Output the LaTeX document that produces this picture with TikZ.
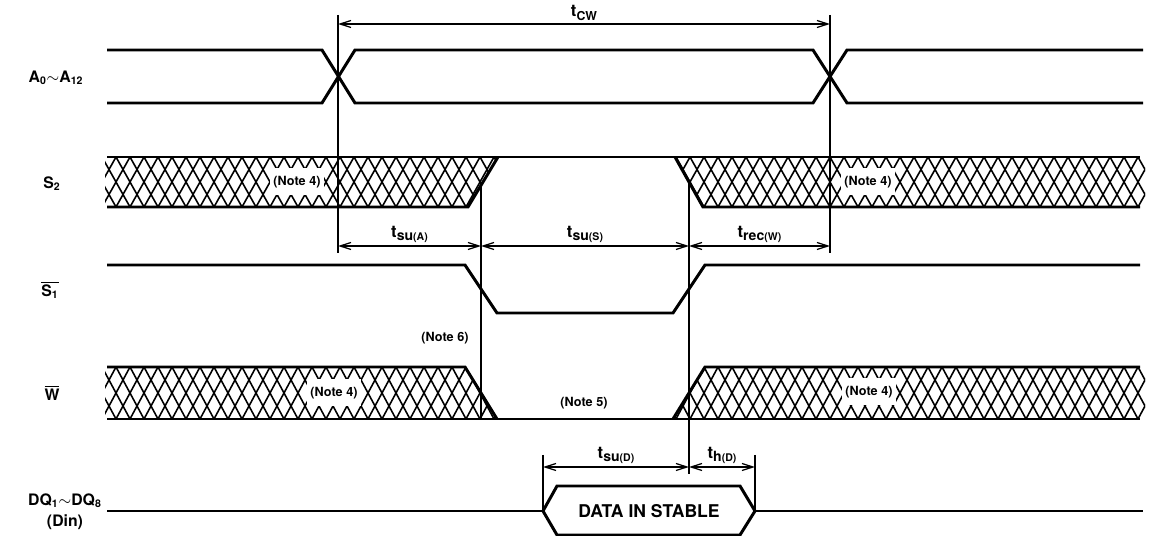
\documentclass[tikz,border=0pt]{standalone}
\usepackage{fontspec}
\setmainfont{TeX Gyre Heros}
\usetikzlibrary{arrows.meta}

\tikzset{
  sig/.style={line width=1.7pt, line join=miter},
  hatchline/.style={line width=0.9pt},
  marker/.style={line width=0.9pt},
  dim/.style={line width=0.7pt,
    {Straight Barb[length=2.2mm,width=1.4mm]}-{Straight Barb[length=2.2mm,width=1.4mm]}},
  tlabel/.style={above, inner sep=1.5pt, font=\bfseries\fontsize{9.5}{10}\selectfont},
  note/.style={font=\bfseries\fontsize{7.2}{9}\selectfont, inner sep=1pt},
  notebox/.style={note, fill=white, minimum height=0.54cm, inner xsep=2pt},
  signame/.style={font=\bfseries\fontsize{9}{12}\selectfont, inner sep=0pt, align=center},
}

% timing label: t with a lowered subscript
\newcommand{\tsub}[2]{t\raisebox{-0.4ex}{\fontsize{8}{8}\selectfont #1\fontsize{6}{6}\selectfont(#2)}}
\newcommand{\tcw}{t\raisebox{-0.4ex}{\fontsize{7}{7}\selectfont CW}}

% cross hatch inside a clip path: #1 path, #2 top y, #3 bottom y
\newcommand{\xhatch}[3]{%
  \begin{scope}
    \clip #1;
    \foreach \x in {60,74,...,1200}
      \draw[hatchline] (\x,#2) -- (\x+28,#3) (\x,#2) -- (\x-28,#3);
  \end{scope}}

\begin{document}
\begin{tikzpicture}[x=0.02cm, y=-0.02cm]
  \useasboundingbox (0,0) rectangle (1150,536);

  % signal names
  \node[signame] (nA)  at (56,78)  {A\textsubscript{0}$\sim$A\textsubscript{12}};
  \node[signame] (nS2) at (52,184) {S\textsubscript{2}};
  \node[signame] (nS1) at (50,290) {$\overline{\mbox{S\textsubscript{1}}}$};
  \node[signame] (nW)  at (52,393) {$\overline{\mbox{W}}$};
  \node[signame] (nDQ) at (65,512) {DQ\textsubscript{1}$\sim$DQ\textsubscript{8}\\(Din)};

  % hatched (don't care) regions
  \xhatch{(105,157) -- (498,157) -- (468,207) -- (105,207) -- cycle}{157}{207}
  \xhatch{(675,157) -- (1145,157) -- (1145,207) -- (703,207) -- cycle}{157}{207}
  \xhatch{(105,367) -- (465,367) -- (497,419) -- (105,419) -- cycle}{367}{419}
  \xhatch{(673,419) -- (705,367) -- (1145,367) -- (1145,419) -- cycle}{367}{419}

  % notes
  \node[notebox] (n4a) at (297,182) {(Note 4)};
  \node[notebox] (n4b) at (868,182) {(Note 4)};
  \node[notebox] (n4c) at (334,393) {(Note 4)};
  \node[notebox] (n4d) at (869,392) {(Note 4)};
  \node[note] (n6) at (445,338) {(Note 6)};
  \node[note] (n5) at (584,403) {(Note 5)};

  % A0~A12
  \draw[sig] (107,50) -- (322,50) -- (355,103) -- (813,103) -- (847,50) -- (1143,50);
  \draw[sig] (107,103) -- (322,103) -- (355,50) -- (813,50) -- (847,103) -- (1143,103);

  % S2
  \draw[sig] (107,157) -- (1140,157);
  \draw[sig] (107,207) -- (468,207) -- (498,157);
  \draw[sig] (675,157) -- (703,207) -- (1140,207);

  % S1
  \draw[sig] (107,265) -- (465,265) -- (497,313) -- (673,313) -- (705,265) -- (1140,265);

  % W
  \draw[sig] (107,367) -- (465,367) -- (497,419);
  \draw[sig] (107,419) -- (1140,419);
  \draw[sig] (673,419) -- (705,367) -- (1140,367);

  % DQ1~DQ8
  \draw[sig] (107,511) -- (543,511);
  \draw[sig] (755,511) -- (1143,511);
  \draw[sig] (543,511) -- (557,486) -- (740,486) -- (755,511) -- (740,535) -- (557,535) -- cycle;
  \node[font=\bfseries\fontsize{10}{12}\selectfont] (data) at (649,511) {DATA IN STABLE};

  % timing markers
  \draw[marker] (338,15) -- (338,253);
  \draw[marker] (830,15) -- (830,253);
  \draw[marker] (481,185) -- (481,419);
  \draw[marker] (689,182) -- (689,474);
  \draw[marker] (543,455) -- (543,511);
  \draw[marker] (755,455) -- (755,511);

  % timing intervals
  \coordinate (cwL) at (338,24);  \coordinate (cwR) at (830,24);
  \coordinate (suA) at (338,246); \coordinate (suS) at (481,246);
  \coordinate (rec) at (689,246); \coordinate (recR) at (830,246);
  \coordinate (dL) at (543,467);  \coordinate (dM) at (689,467);
  \coordinate (dR) at (755,467);

  \draw[dim] (cwL) -- node[tlabel] {\tcw} (cwR);
  \draw[dim] (suA) -- node[tlabel] {\tsub{su}{A}} (suS);
  \draw[dim] (suS) -- node[tlabel] {\tsub{su}{S}} (rec);
  \draw[dim] (rec) -- node[tlabel] {\tsub{rec}{W}} (recR);
  \draw[dim] (dL) -- node[tlabel] {\tsub{su}{D}} (dM);
  \draw[dim] (dM) -- node[tlabel] {\tsub{h}{D}} (dR);
\end{tikzpicture}
\end{document}
